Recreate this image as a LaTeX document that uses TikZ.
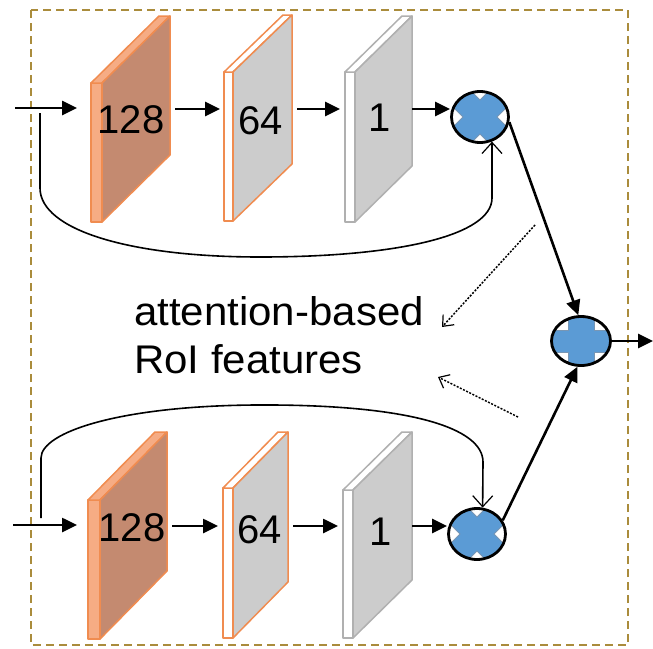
\documentclass[tikz,border=0pt]{standalone}
\usepackage{fontspec}
\setmainfont{Liberation Sans}
\usetikzlibrary{arrows.meta,shapes.geometric}

\definecolor{frameol}{RGB}{170,140,60}
\definecolor{slabor}{RGB}{240,140,80}
\definecolor{slabbr}{RGB}{196,138,112}
\definecolor{slablt}{RGB}{246,172,132}
\definecolor{slabgy}{RGB}{204,204,204}
\definecolor{slabed}{RGB}{176,176,176}
\definecolor{opblue}{RGB}{91,155,213}
\definecolor{opedge}{RGB}{120,150,180}

% a thin feature-map slab: #1 outer x, #2 face x, #3 right x, #4 face top-left y,
% #5 bottom y, #6 skew, #7 face style, #8 edge-strip style
\newcommand\drawslab[8]{%
  \path[#8] ({#1},{#4}) -- ({#2},{#4}) -- ({#2},{#5}) -- ({#1},{#5}) -- cycle;
  \path[#8] ({#1},{#4}) -- ({#2},{#4}) -- ({#3},{#4-#6}) -- ({#3-#2+#1},{#4-#6}) -- cycle;
  \path[#7] ({#2},{#4}) -- ({#3},{#4-#6}) -- ({#3},{#5-#6}) -- ({#2},{#5}) -- cycle;
}

\tikzset{
  frame/.style={draw=frameol, line width=2pt, dash pattern=on 8pt off 5pt},
  face128/.style={fill=slabbr, draw=slabor, line width=1.5pt, line join=round},
  strip128/.style={fill=slablt, draw=slabor, line width=1.5pt, line join=round},
  face64/.style={fill=slabgy, draw=slabor, line width=1.5pt, line join=round},
  strip64/.style={fill=white, draw=slabor, line width=1.5pt, line join=round},
  face1/.style={fill=slabgy, draw=slabed, line width=1.5pt, line join=round},
  strip1/.style={fill=white, draw=slabed, line width=1.5pt, line join=round},
  anchorbox/.style={rectangle, inner sep=0pt, outer sep=0pt, minimum height=1pt},
  digit/.style={inner sep=0pt, font=\fontsize{40}{48}\selectfont},
  caption/.style={inner sep=0pt, anchor=base west, font=\fontsize{40}{48}\selectfont},
  flow/.style={line width=2.6pt, -{Triangle[length=15pt,width=14pt]}},
  skip/.style={line width=1.6pt, -{Straight Barb[length=11pt,width=20pt,line width=1.2pt]}},
  hint/.style={line width=1.5pt, dash pattern=on 2pt off 1.5pt,
    -{Straight Barb[length=9pt,width=15pt,line width=1.2pt]}},
  opring/.style={ellipse, draw=black, line width=2.8pt, inner sep=0pt},
  % element-wise product: a diagonal cross
  mulop/.style={opring, minimum width=57pt, minimum height=51pt,
    path picture={\filldraw[fill=opblue, draw=opedge, line width=0.8pt,
      shift={(path picture bounding box.center)}]
      (-19.8,36.8) -- (0,16.97) -- (19.8,36.8) -- (36.8,19.8) -- (16.97,0) --
      (36.8,-19.8) -- (19.8,-36.8) -- (0,-16.97) -- (-19.8,-36.8) --
      (-36.8,-19.8) -- (-16.97,0) -- (-36.8,19.8) -- cycle;}},
  % element-wise sum: an upright cross
  addop/.style={opring, minimum width=59pt, minimum height=49pt,
    path picture={\filldraw[fill=opblue, draw=opedge, line width=0.8pt,
      shift={(path picture bounding box.center)}]
      (13,40) -- (13,11) -- (40,11) -- (40,-11) -- (13,-11) -- (13,-40) --
      (-13,-40) -- (-13,-11) -- (-40,-11) -- (-40,11) -- (-13,11) -- (-13,40) -- cycle;}},
}

\begin{document}
\begin{tikzpicture}[x=1pt, y=-1pt]
\useasboundingbox (0,0) rectangle (653,648);

% dashed enclosure
\path[frame] (31,10) rectangle (628,645);

% upper branch slabs
\drawslab{91}{102}{170}{83}{222}{67}{face128}{strip128}
\drawslab{224}{233}{292}{72}{221}{57}{face64}{strip64}
\drawslab{345}{355}{412}{72}{222}{56}{face1}{strip1}
% lower branch slabs
\drawslab{88}{100}{167}{500}{639}{68}{face128}{strip128}
\drawslab{223}{233}{288}{488}{638}{56}{face64}{strip64}
\drawslab{343}{353}{412}{490}{638}{58}{face1}{strip1}

% slab anchors for the connectors
\node[anchorbox, minimum width=79pt] (A1) at (130.5,109) {};
\node[anchorbox, minimum width=68pt] (B1) at (258,109) {};
\node[anchorbox, minimum width=67pt] (C1) at (378.5,109) {};
\node[anchorbox, minimum width=79pt] (A2) at (127.5,526) {};
\node[anchorbox, minimum width=65pt] (B2) at (255.5,526) {};
\node[anchorbox, minimum width=69pt] (C2) at (377.5,526) {};

% channel counts
\node[digit] (n128a) at (131,120) {128};
\node[digit] (n64a)  at (261,121) {64};
\node[digit] (n1a)   at (380,118) {1};
\node[digit] (n128b) at (132,528) {128};
\node[digit] (n64b)  at (260,530) {64};
\node[digit] (n1b)   at (381,532) {1};

% operators
\node[mulop] (mt)  at (480,117) {};
\node[mulop] (mb)  at (477,534) {};
\node[addop] (sum) at (581,341) {};

% free ends
\coordinate (in1) at (15,108);
\coordinate (in2) at (13,525);
\coordinate (out) at (653,341);
\coordinate (sk1) at (40,113);
\coordinate (sk2) at (41,518);
\coordinate (d1a) at (535,225);
\coordinate (d1b) at (442,327);
\coordinate (d2a) at (518,417);
\coordinate (d2b) at (438,377);

% main flow, upper branch
\draw[flow, shorten >=14pt] (in1) -- (in1 -| A1.west);
\draw[flow, shorten <=5pt, shorten >=4pt] (A1.east) -- (B1.west);
\draw[flow, shorten <=5pt, shorten >=5pt] (B1.east) -- (C1.west);
\draw[flow] (C1.east) -- (C1.east -| mt.west);
% main flow, lower branch
\draw[flow, shorten >=11pt] (in2) -- (in2 -| A2.west);
\draw[flow, shorten <=5pt, shorten >=5pt] (A2.east) -- (B2.west);
\draw[flow, shorten <=5pt, shorten >=5pt] (B2.east) -- (C2.west);
\draw[flow] (C2.east) -- (C2.east -| mb.west);

% identity paths around each branch
\draw[skip] (sk1) -- (40,188) .. controls (40,230) and (130,257) .. (260,257)
  .. controls (400,257) and (492,235) .. (492,198) -- (mt.-64);
\draw[skip] (sk2) -- (41,458) .. controls (41,432) and (120,406) .. (255,405)
  .. controls (410,404) and (483,428) .. (483,462) -- (mb.78);

% fusion
\draw[flow] (mt.-10) -- (sum.96);
\draw[flow] (mb.28) -- (sum.-98);
\draw[flow] (sum.east) -- (out);

% pointers to the caption
\draw[hint] (d1a) -- (d1b);
\draw[hint] (d2a) -- (d2b);
\node[caption] (cap1) at (134,325) {\scalebox{1.05}[1]{attention-based}};
\node[caption] (cap2) at (134,373) {\scalebox{1.05}[1]{RoI features}};
\end{tikzpicture}
\end{document}
